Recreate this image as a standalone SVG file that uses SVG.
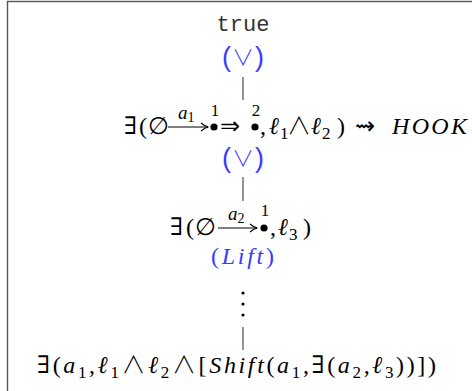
<svg xmlns="http://www.w3.org/2000/svg" width="472" height="391" viewBox="0 0 472 391">
<defs>
<style>
.m{font-family:"Liberation Serif","DejaVu Serif",serif;font-size:24px;fill:#000}
.s{font-family:"DejaVu Sans",sans-serif}
.c{font-family:"Noto Sans CJK JP",sans-serif;font-weight:300}
.i{font-style:italic}
.sub{font-size:17px}
.sup{font-family:"Liberation Serif",serif;font-size:17px;text-anchor:middle}
.lab{font-family:"Liberation Serif",serif;font-size:19px;font-style:italic}
.blue{fill:#3a3aff}
.rule{font-family:"Liberation Sans",sans-serif;font-size:27px;fill:#3a3aff}
.or{font-family:"Noto Sans CJK JP",sans-serif;font-weight:300;font-size:22px;fill:#3a3aff;text-anchor:middle}
.tt{font-family:"Liberation Mono",monospace;font-size:22px;text-anchor:middle;fill:#333}
.bar{stroke:#666;stroke-width:1.4}
.arr{stroke:#000;stroke-width:1.2;fill:none}
</style>
<marker id="ah" markerWidth="10" markerHeight="10" refX="8" refY="5" orient="auto" markerUnits="userSpaceOnUse">
<path d="M1,1 Q5,4.5 8.5,5 Q5,5.5 1,9" fill="none" stroke="#000" stroke-width="1.1"/>
</marker>
</defs>
<rect x="7.5" y="1.5" width="480" height="400" fill="none" stroke="#555" stroke-width="1.4"/>
<g id="connectors">
<line class="bar" x1="243" y1="77" x2="243" y2="100"/>
<line class="bar" x1="243" y1="177" x2="243" y2="201"/>
<line class="bar" x1="243" y1="327" x2="243" y2="350"/>
<circle cx="243" cy="293" r="1.6"/>
<circle cx="243" cy="304" r="1.6"/>
<circle cx="243" cy="315" r="1.6"/>
</g>
<g id="n-true">
<text class="tt" x="243" y="31">true</text>
<text class="rule" x="222" y="66">(</text>
<text class="or" x="243" y="65">∨</text>
<text class="rule" x="255" y="66">)</text>
</g>
<g id="n-hook">
<text class="m" x="124" y="134">∃</text>
<text class="m" x="139" y="134">(</text>
<text class="m" x="148" y="134">∅</text>
<line class="arr" x1="168" y1="127" x2="208" y2="127" marker-end="url(#ah)"/>
<text class="lab" x="178" y="119">a<tspan font-style="normal" font-size="14" dy="3">1</tspan></text>
<circle cx="214" cy="127" r="3.6"/>
<text class="sup" x="215" y="116">1</text>
<text class="m s" x="220" y="134" font-size="22">⇒</text>
<circle cx="255" cy="127" r="3.6"/>
<text class="sup" x="256" y="116">2</text>
<text class="m" x="260" y="134">,</text>
<text class="m i" x="269" y="134">ℓ</text>
<text class="m sub" x="280" y="139">1</text>
<text class="m c" x="287" y="134" font-size="21">∧</text>
<text class="m i" x="311" y="134">ℓ</text>
<text class="m sub" x="322" y="139">2</text>
<text class="m" x="337" y="134">)</text>
<text class="m s" x="355" y="134" font-size="24">⇝</text>
<text class="m i" x="392" y="134" textLength="75">HOOK</text>
<text class="rule" x="222" y="167">(</text>
<text class="or" x="243" y="166">∨</text>
<text class="rule" x="255" y="167">)</text>
</g>
<g id="n-lift">
<text class="m" x="170" y="235">∃</text>
<text class="m" x="186" y="235">(</text>
<text class="m" x="195" y="235">∅</text>
<line class="arr" x1="218" y1="228" x2="257" y2="228" marker-end="url(#ah)"/>
<text class="lab" x="228" y="220">a<tspan font-style="normal" font-size="14" dy="3">2</tspan></text>
<circle cx="264" cy="228" r="3.6"/>
<text class="sup" x="265" y="216">1</text>
<text class="m" x="270" y="235">,</text>
<text class="m i" x="278" y="235">ℓ</text>
<text class="m sub" x="289" y="240">3</text>
<text class="m" x="303" y="235">)</text>
<text class="m blue" x="211" y="264" font-size="28" textLength="63">(<tspan class="i">Lift</tspan>)</text>
</g>
<g id="n-result">
<text class="m" x="37" y="373" font-size="28" textLength="399">∃(<tspan class="i">a</tspan><tspan class="sub" font-size="19" dy="5">1</tspan><tspan dy="-5">,</tspan><tspan class="i">ℓ</tspan><tspan class="sub" font-size="19" dy="5">1</tspan><tspan dy="-5" class="c" font-size="24">∧</tspan><tspan class="i">ℓ</tspan><tspan class="sub" font-size="19" dy="5">2</tspan><tspan dy="-5" class="c" font-size="24">∧</tspan>[<tspan class="i">Shift</tspan>(<tspan class="i">a</tspan><tspan class="sub" font-size="19" dy="5">1</tspan><tspan dy="-5">,∃(</tspan><tspan class="i">a</tspan><tspan class="sub" font-size="19" dy="5">2</tspan><tspan dy="-5">,</tspan><tspan class="i">ℓ</tspan><tspan class="sub" font-size="19" dy="5">3</tspan><tspan dy="-5">))])</tspan></text>
</g>
</svg>
